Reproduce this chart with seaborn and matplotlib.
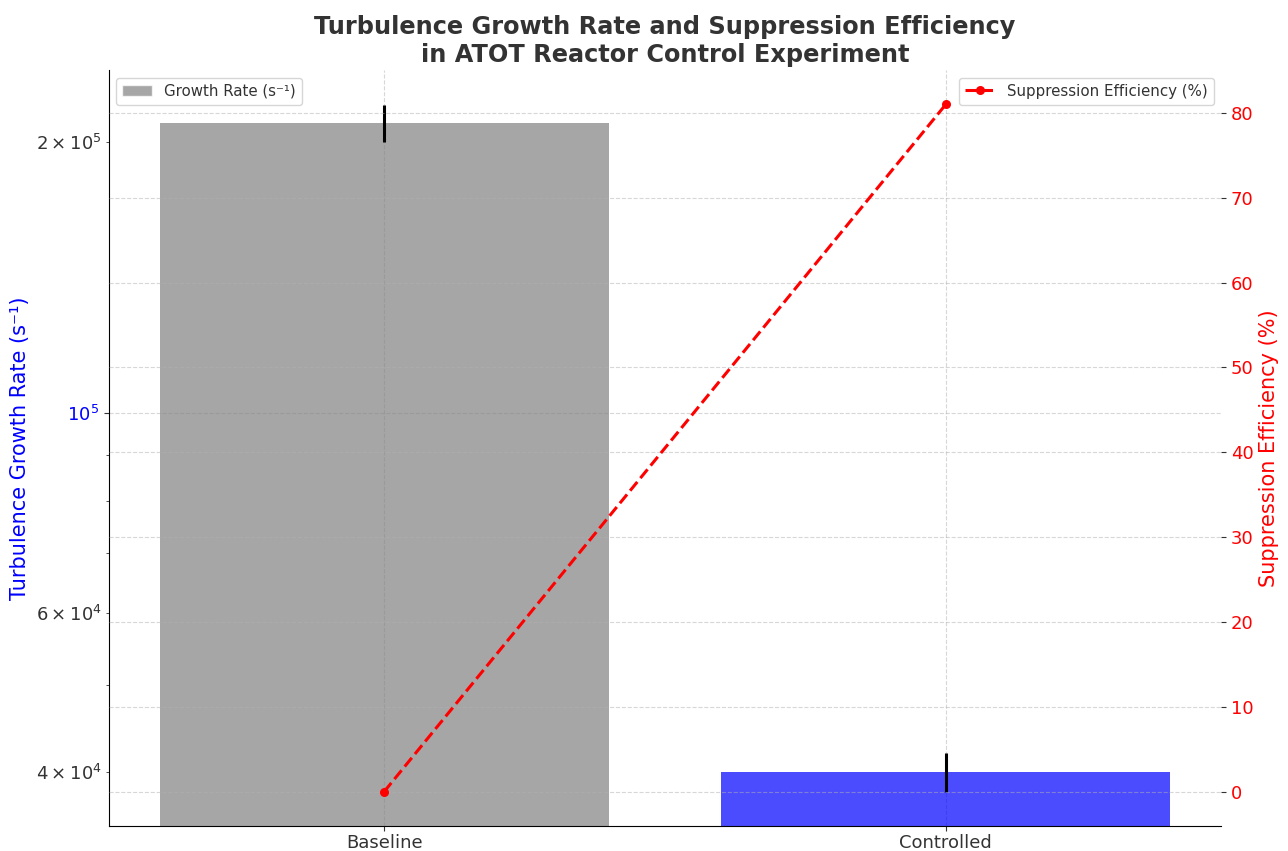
import matplotlib
matplotlib.use('Agg')
import matplotlib.pyplot as plt
import seaborn as sns
from matplotlib.patches import Patch

# Datos
condiciones = ['Baseline', 'Controlled']
growth_rate = [2.1e5, 4.0e4]
growth_err = [1.0e4, 2.0e3]
suppression = [0, 81]
colores = ['gray', 'blue']

sns.set_style('white')
plt.rcParams['font.family'] = ['DejaVu Sans']
plt.rcParams['text.color'] = '#333333'
plt.rcParams['xtick.labelsize'] = 13
plt.rcParams['ytick.labelsize'] = 13
plt.rcParams['xtick.color'] = '#333333'
plt.rcParams['ytick.color'] = '#333333'

fig = plt.figure(figsize=(12.88, 8.51), dpi=100)
ax1 = fig.add_axes([0.0846, 0.0294, 0.8634, 0.8883])

# Barras de la tasa de crecimiento (escala log)
sns.barplot(x=condiciones, y=growth_rate, hue=condiciones, palette=colores,
            alpha=0.7, width=0.8, legend=False, ax=ax1, errorbar=None,
            saturation=1, linewidth=0, zorder=2)
ax1.errorbar(condiciones, growth_rate, yerr=growth_err, fmt='none',
             ecolor='black', elinewidth=2.2, capsize=0, zorder=3)
ax1.set_yscale('log')
ax1.set_ylim(3.484e4, 2.404e5)
ax1.set_xlim(-0.49, 1.49)
ax1.set_ylabel('Turbulence Growth Rate (s⁻¹)', color='blue', fontsize=15)
ax1.set_xlabel('')
ax1.tick_params(axis='y', labelcolor='blue')
ax1.tick_params(axis='both', which='both', left=True, bottom=True)
ax1.tick_params(axis='x', pad=2.5)
ax1.grid(True, axis='both', which='major', linestyle='--', linewidth=0.8,
         color='#b0b0b0', alpha=0.5)
for s in ['top', 'right']:
    ax1.spines[s].set_visible(False)
for s in ['left', 'bottom']:
    ax1.spines[s].set_color('black')

# Eficiencia de supresion en eje secundario
ax2 = ax1.twinx()
sns.lineplot(x=[0, 1], y=suppression, ax=ax2, color='red', marker='o',
             linestyle='--', linewidth=2.2, markersize=6.5, markeredgewidth=0)
ax2.set_ylim(-4.05, 85.05)
ax2.set_xlim(-0.49, 1.49)
ax2.set_ylabel('Suppression Efficiency (%)', color='red', fontsize=15)
ax2.tick_params(axis='y', labelcolor='red', right=True)
ax2.set_yticks(range(0, 81, 10))
ax2.grid(True, linestyle='--', linewidth=0.8, color='#b0b0b0', alpha=0.5)
for s in ax2.spines.values():
    s.set_visible(False)

h1 = [Patch(facecolor='gray', alpha=0.7, label='Growth Rate (s⁻¹)')]
ax1.legend(handles=h1, loc='upper left', fontsize=10.8)
ax2.legend(handles=ax2.get_lines()[:1], labels=['Suppression Efficiency (%)'],
           loc='upper right', fontsize=10.8)

ax1.set_title('Turbulence Growth Rate and Suppression Efficiency\nin ATOT Reactor Control Experiment',
              fontsize=17.3, fontweight='bold', color='#333333', pad=6)

plt.savefig('out.png', dpi=100)
plt.close()
